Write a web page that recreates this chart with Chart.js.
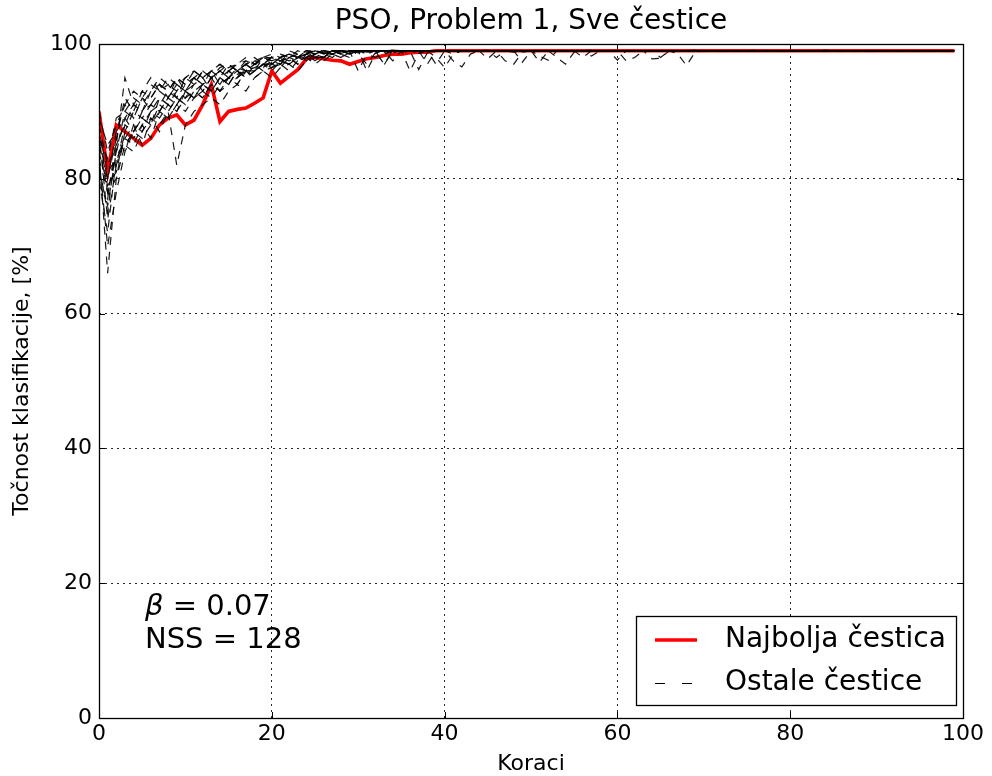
<!DOCTYPE html>
<html>
<head>
<meta charset="utf-8">
<script src="https://cdn.jsdelivr.net/npm/chart.js@4.4.1/dist/chart.umd.min.js"></script>
<style>
  html, body { margin: 0; padding: 0; background: #fff; }
  canvas { display: block; }
</style>
</head>
<body>
<canvas id="c" width="992" height="776"></canvas>
<script>
// ---------------- DATA ----------------
const titleText = 'PSO, Problem 1, Sve čestice';
const xTitle = 'Koraci';
const yTitle = 'Točnost klasifikacije, [%]';
const legendLabels = ['Najbolja čestica', 'Ostale čestice'];
const annotationBeta = '0.07';
const annotationNSS = '128';

const xTicks = [0, 20, 40, 60, 80, 100];
const yTicks = [0, 20, 40, 60, 80, 100];

const steps = Array.from({ length: 100 }, (_, i) => i);

const best = [
  90,81,88,87,86,85,86,88,89,89.5,88,88.7,91,94,88.5,90,90.3,90.5,91.2,92,
  96,94.2,95.2,96.2,97.8,98,97.8,97.6,97.5,97,97.4,97.8,98,98.3,98.5,98.5,98.7,98.8,98.8,99,
  99,99,99,99,99,99,99,99,99,99,99,99,99,99,99,99,99,99,99,99,
  99,99,99,99,99,99,99,99,99,99,99,99,99,99,99,99,99,99,99,99,
  99,99,99,99,99,99,99,99,99,99,99,99,99,99,99,99,99,99,99,99
];

const p1 = [
  88,78,84,90,89,92,91,93,92,94,93,95,94,95,96,95,96,97,96,97,
  97,98,97.5,98,98.5,98,98.7,98.5,99,98.8,99,96,98.6,99.1,98.9,99,99,98.8,99,99,
  99,99,98.9,99,99,99.1,99,99,98.8,99,99,99,99,98.9,99,99,99,99.1,99,99,
  99,99,99,98.9,99,99,99,99,99,99.1,99,99,99,99,98.9,99,99,99,99,99,
  99,99,99,99,99.1,99,99,99,99,99,98.9,99,99,99,99,99,99,99,99,99
];
const p2 = [
  84,66,80,87,86,88,90,89,91,90,92,93,92,94,93,95,94,96,95,96,
  96.5,97,96,97.5,98,97,98,98.5,98,98.7,99,98.5,98,98.8,99,99,98.7,99,99,99,
  99,98.5,99,99,99,99,98.9,99,99,99,99,97.3,99,99,99,99,99,99,99,99,
  99,99,99,99,99,98.9,99,99,99,99,99,99,99,99,99,99,99.1,99,99,99,
  99,99,99,99,99,99,99,99,99,98.9,99,99,99,99,99,99,99,99,99,99
];
const p3 = [
  82,75,85,95,91,93,92,94,93,95,94,95,96,95,96,96.5,97,96,97.5,97,
  98,97.5,98,98.5,98,99,98.6,99,98.9,99,99,99,98.8,99,99.1,99,99,99,99,99,
  99,97.5,96.6,98.5,99,99,99,99,99,99,99,99,99,99,99,99,99,99,99,99,
  99,99,99,99,99,99,99,99,99,99,99,99,98.9,99,99,99,99,99,99,99,
  99,99,99,99,99,99,99,99,99,99,99,99,99,99,99,99,99,99,99,99
];
const p4 = [
  86,80,86,84,88,87,90,92,91,93,92,94,95,93,95,94,96,95,97,96,
  97,96.5,98,97,98.5,98,98,99,98.5,98,99,98.8,99,99,98.7,99,99,99,98.9,99,
  99,99,99,99,99,99,99,97.5,97,98.8,99,99,99,99,99,99,99,99,99,99,
  99,99,99,99,99,99,99,99,99,99,99,99,99,99,99,99,99,99,99,99,
  99,99,99,99,99,99,99,99,99,99,99,99,99,99,99,99,99,99,99,99
];
const p5 = [
  80,72,83,86,85,88,86,90,89,91,93,92,94,93,95,94,95,96,96,97,
  96,97.5,97,98,97.5,98.5,98,99,98.5,99,96,98.5,99,98.8,99,99,98.7,99,99,99,
  99,99,99,99,99,99,99,99,99,99,99,99,99,98,97,98.8,99,99,99,99,
  99,99,99,99,99,99,99,99,99,99,99,99,99,99,99,99,99,99,99,99,
  99,99,99,99,99,99,99,99,99,99,99,99,99,99,99,99,99,99,99,99
];
const p6 = [
  90,84,88,91,93,92,94,93,95,94,95,96,95,96,97,96,97,97.5,97,98,
  97.5,98,98.5,98,99,98.5,99,98.8,99,99,98.7,99,99,99,99.1,99,99,99,99,99,
  99,99,99,99,99,99,99,99,99,99,99,99,99,99,99,99,99,99,99,99,
  99,97.5,98,99,99,99,99,99,99,99,99,99,99,99,99,99,99,99,99,99,
  99,99,99,99,99,99,99,99,99,99,99,99,99,99,99,99,99,99,99,99
];
const p7 = [
  85,78,82,86,88,85,89,87,90,82,88,90,91,92,91,93,94,93,95,96,
  95,96.5,97,96,97.5,98,97.5,98.5,98,99,98.5,97,98.7,99,99,98.8,99,99,99,99,
  99,99,99,99,99,99,99,99,99,99,99,99,99,99,99,99,99,99,99,99,
  99,99,99,99,99,99,99,98.5,96.8,98.8,99,99,99,99,99,99,99,99,99,99,
  99,99,99,99,99,99,99,99,99,99,99,99,99,99,99,99,99,99,99,99
];
const p8 = [
  88,82,85,88,91,90,92,94,93,95,93,94,96,95,96,97,96,97,98,97,
  98,97.5,98.5,98,99,98.7,99,99,98.5,99,99,98.8,99,99,97.5,99,99,99,99,98,
  96.5,98.5,99,99,99,99,99,99,99,99,99,99,99,99,99,99,99,98.2,99,99,
  99,99,99,99,99,99,99,99,99,99,99,99,99,99,99,99,99,99,99,99,
  99,99,99,99,99,99,99,99,99,99,99,99,99,99,99,99,99,99,99,99
];
const p9 = [
  83,70,78,84,87,89,88,91,90,92,91,93,92,94,93,95,96,95,96,97,
  97,98,97,98,98.5,97.5,98.5,99,98.6,99,99,98.8,99,99,99,99,96,98.6,99,99,
  99,99,99,99,99,97.8,99,99,99,99,99,99,99,99,99,99,99,99,99,99,
  99,99,99,99,99,99,99,99,99,99,99,99,99,99,99,99,99,99,99,99,
  99,99,99,99,99,99,99,99,99,99,99,99,99,99,99,99,99,99,99,99
];
const p10 = [
  87,81,83,85,84,87,89,88,90,92,91,93,94,96,94,95,95.5,96,97,96.5,
  97.5,97,98,98.5,97.5,98.5,99,98.5,99,98.8,99,99,99,98.5,99,99,99,99,99,99,
  99,99,99,99,99,99,99,99,99,99,99,99,99,99,99,99,99,99,99,99,
  99,99,99,99,97.8,97.9,99,99,99,99,99,99,99,99,99,99,99,99,99,99,
  99,99,99,99,99,99,99,99,99,99,99,99,99,99,99,99,99,99,99,99
];
const p11 = [
  79,77,86,92,90,93,95,93,94,92,95,94,96,95,96.5,97,96,97.5,97,98,
  98,98.5,98,99,98.5,99,99,98.8,99,99,99,99,98.9,97,99,99,99,99,99,99,
  99,99,99,99,99,99,99,99,99,99,99,99,99,99,99,99,99,99,99,99,
  99,99,99,99,99,99,99,99,99,99,99,99,99,99,99,99,99,99,99,99,
  99,99,99,99,99,99,99,99,99,99,99,99,99,99,99,99,99,99,99,99
];
const p12 = [
  89,85,87,89,87,90,91,90,92,91,93,92,93,95,94,96,95,96,96.5,97,
  97,97.5,98,97,98,98.5,98,98.5,99,98.5,99,99,98.8,99,99,98.9,99,99,99,97,
  99,99,99,99,99,99,99,99,99,99,99,99,99,99,99,99,99,99,99,99,
  99,99,99,99,99,99,99,99,99,99,99,99,99,99,99,99,99,99,99,99,
  99,99,99,99,99,99,99,99,99,99,99,99,99,99,99,99,99,99,99,99
];
const p13 = [
  84,79,81,87,90,89,91,90,92,94,93,95,94,93,95,96,95,97,96,98,
  97.5,98,98.5,98,98.7,99,98.5,99,99,98.8,99,99,99,99,98.7,99,99,99,99,99,
  99,99,99,99,99,99,99,99,99,99,99,99,99,99,99,99,98,99,99,99,
  99,99,99,99,99,99,99,99,99,99,99,99,99,99,99,99,99,99,99,99,
  99,99,99,99,99,99,99,99,99,99,99,99,99,99,99,99,99,99,99,99
];
const p14 = [
  86,83,89,90,92,91,93,95,94,93,95,96,95,96,97,96,97,98,97,98,
  98.5,98,99,98.5,99,99,98.8,99,99,99,98.6,99,99,99,99,99,99,99,99,99,
  99,99,99,99,99,99,99,99,99,97.3,99,99,99,99,99,99,99,99,99,99,
  99,99,99,99,99,99,99,99,99,99,99,99,99,99,99,99,99,99,99,99,
  99,99,99,99,99,99,99,99,99,99,99,99,99,99,99,99,99,99,99,99
];
const p15 = [
  81,76,84,89,91,90,93,94,92,95,94,96,95,96,95,97,96,97,97.5,98,
  97,98,98.5,98,99,98.5,98,99,98.7,99,99,99,99,96.9,99,99,99,99,99,99,
  99,99,99,99,99,99,99,99,99,99,99,99,99,99,99,99,99,99,99,99,
  97.6,99,99,99,99,99,99,99,99,99,99,99,99,99,99,99,99,99,99,99,
  99,99,99,99,99,99,99,99,99,99,99,99,99,99,99,99,99,99,99,99
];
const p16 = [
  87,74,82,88,87,89,88,92,91,90,93,92,94,95,93,94,96,95,96,97,
  96.5,97,98,97.5,98,99,98.5,98,99,98.5,99,98.8,99,99,99,99,99,96.2,98.7,99,
  99,99,99,99,99,99,98,99,99,99,99,99,99,99,99,99,99,99,99,99,
  99,99,99,99,99,99,99,99,99,99,99,99,99,99,99,99,99,99,99,99,
  99,99,99,99,99,99,99,99,99,99,99,99,99,99,99,99,99,99,99,99
];
const p17 = [
  85,80,87,91,89,92,90,91,93,92,94,95,93,95,96,95,96.5,96,97,97.5,
  98,97,98.5,98,98.5,99,98.7,99,99,98.5,99,99,99,99,99,99,99,99,97,99,
  99,99,99,99,99,99,99,99,99,99,99,99,99,99,99,99,99,99,99,99,
  99,99,99,99,99,98,99,99,99,99,99,99,99,99,99,99,99,99,99,99,
  99,99,99,99,99,99,99,99,99,99,99,99,99,99,99,99,99,99,99,99
];
const p18 = [
  83,78,80,85,87,86,88,90,89,91,90,92,93,92,94,95,94,96,96,97,
  96.5,97.5,97,98,98,98.5,98,99,98.5,99,98.8,99,99,99,99,99,99,99,99,99,
  99,99,99,99,99,99,99,99,99,99,99,98.2,97.6,99,99,99,99,99,99,99,
  99,99,99,99,99,99,99,99,99,99,99,99,99,99,99,99,99,99,99,99,
  99,99,99,99,99,99,99,99,99,99,99,99,99,99,99,99,99,99,99,99
];
const others = [p1, p2, p3, p4, p5, p6, p7, p8, p9, p10, p11, p12, p13, p14, p15, p16, p17, p18];

// ---------------- STYLE ----------------
const FONT = '"DejaVu Sans", "Bitstream Vera Sans", sans-serif';
const RED = '#ff0000';
const BLACK_DASH = [8, 7];

const toPoints = arr => steps.map((s, i) => ({ x: s, y: arr[i] }));

const datasets = [{
  label: legendLabels[0],
  data: toPoints(best),
  borderColor: RED,
  borderWidth: 3.6,
  pointRadius: 0,
  tension: 0,
  order: 1
}];
others.forEach((arr, k) => {
  datasets.push({
    label: k === 0 ? legendLabels[1] : '',
    data: toPoints(arr),
    borderColor: 'rgba(0,0,0,0.9)',
    borderWidth: 1.2,
    borderDash: BLACK_DASH,
    pointRadius: 0,
    tension: 0,
    order: 0
  });
});

const framePlugin = {
  id: 'frame',
  afterDraw(chart) {
    const { ctx, chartArea: a, scales: { x, y } } = chart;
    ctx.save();
    // inward ticks
    ctx.strokeStyle = '#000';
    ctx.lineWidth = 1;
    ctx.setLineDash([]);
    const TL = 6;
    xTicks.forEach(v => {
      const px = Math.round(x.getPixelForValue(v)) + 0.5;
      ctx.beginPath();
      ctx.moveTo(px, a.bottom); ctx.lineTo(px, a.bottom - TL);
      ctx.moveTo(px, a.top); ctx.lineTo(px, a.top + TL);
      ctx.stroke();
    });
    yTicks.forEach(v => {
      const py = Math.round(y.getPixelForValue(v)) + 0.5;
      ctx.beginPath();
      ctx.moveTo(a.left, py); ctx.lineTo(a.left + TL, py);
      ctx.moveTo(a.right, py); ctx.lineTo(a.right - TL, py);
      ctx.stroke();
    });
    // frame
    ctx.lineWidth = 1.3;
    ctx.strokeRect(Math.round(a.left) + 0.5, Math.round(a.top) + 0.5,
                   Math.round(a.right - a.left), Math.round(a.bottom - a.top));

    // title
    ctx.fillStyle = '#000';
    ctx.textBaseline = 'middle';
    ctx.textAlign = 'center';
    ctx.font = '28px ' + FONT;
    ctx.fillText(titleText, (a.left + a.right) / 2, 22);

    // annotation text
    ctx.textAlign = 'left';
    ctx.font = 'italic 29px ' + FONT;
    ctx.fillText('β', 145, 607);
    const bw = ctx.measureText('β').width;
    ctx.font = '29px ' + FONT;
    ctx.fillText(' = ' + annotationBeta, 145 + bw, 607);
    ctx.fillText('NSS = ' + annotationNSS, 145, 640);

    // legend
    const lx = 636.5, ly = 616.5, lw = 320, lh = 89;
    ctx.fillStyle = '#fff';
    ctx.fillRect(lx, ly, lw, lh);
    ctx.strokeStyle = '#000';
    ctx.lineWidth = 1.3;
    ctx.strokeRect(lx, ly, lw, lh);

    ctx.lineWidth = 3.6;
    ctx.strokeStyle = RED;
    ctx.beginPath(); ctx.moveTo(655, 640); ctx.lineTo(697, 640); ctx.stroke();

    ctx.lineWidth = 1.2;
    ctx.strokeStyle = '#000';
    ctx.setLineDash([10, 17]);
    ctx.beginPath(); ctx.moveTo(655, 683.5); ctx.lineTo(697, 683.5); ctx.stroke();
    ctx.setLineDash([]);

    ctx.fillStyle = '#000';
    ctx.font = '28px ' + FONT;
    ctx.fillText(legendLabels[0], 725, 640);
    ctx.fillText(legendLabels[1], 725, 683);
    ctx.restore();
  }
};

const tickFont = { family: FONT, size: 22 };
const gridCfg = { color: 'rgba(0,0,0,0.85)', lineWidth: 1, drawTicks: false };
const borderCfg = { display: false, dash: [2, 4] };

new Chart(document.getElementById('c'), {
  type: 'line',
  data: { datasets },
  options: {
    responsive: false,
    animation: false,
    events: [],
    layout: { padding: { left: 0, right: 29, top: 44, bottom: 0 } },
    plugins: {
      legend: { display: false },
      tooltip: { enabled: false },
      title: { display: false }
    },
    scales: {
      x: {
        type: 'linear',
        min: 0, max: 100,
        afterBuildTicks: s => { s.ticks = xTicks.map(v => ({ value: v })); },
        afterFit: s => { s.height = 58; },
        ticks: { font: tickFont, color: '#000', padding: 3, maxRotation: 0, autoSkip: false },
        grid: gridCfg,
        border: borderCfg,
        title: { display: true, text: xTitle, color: '#000', font: { family: FONT, size: 22, lineHeight: 1.1 }, padding: { top: 0, bottom: 0 } }
      },
      y: {
        type: 'linear',
        min: 0, max: 100,
        afterBuildTicks: s => { s.ticks = yTicks.map(v => ({ value: v })); },
        afterFit: s => { s.width = 99; },
        ticks: { font: tickFont, color: '#000', padding: 7, autoSkip: false },
        grid: gridCfg,
        border: borderCfg,
        title: { display: true, text: yTitle, color: '#000', font: { family: FONT, size: 22, lineHeight: 1.1 }, padding: { top: 10, bottom: 0 } }
      }
    }
  },
  plugins: [framePlugin]
});
</script>
</body>
</html>
